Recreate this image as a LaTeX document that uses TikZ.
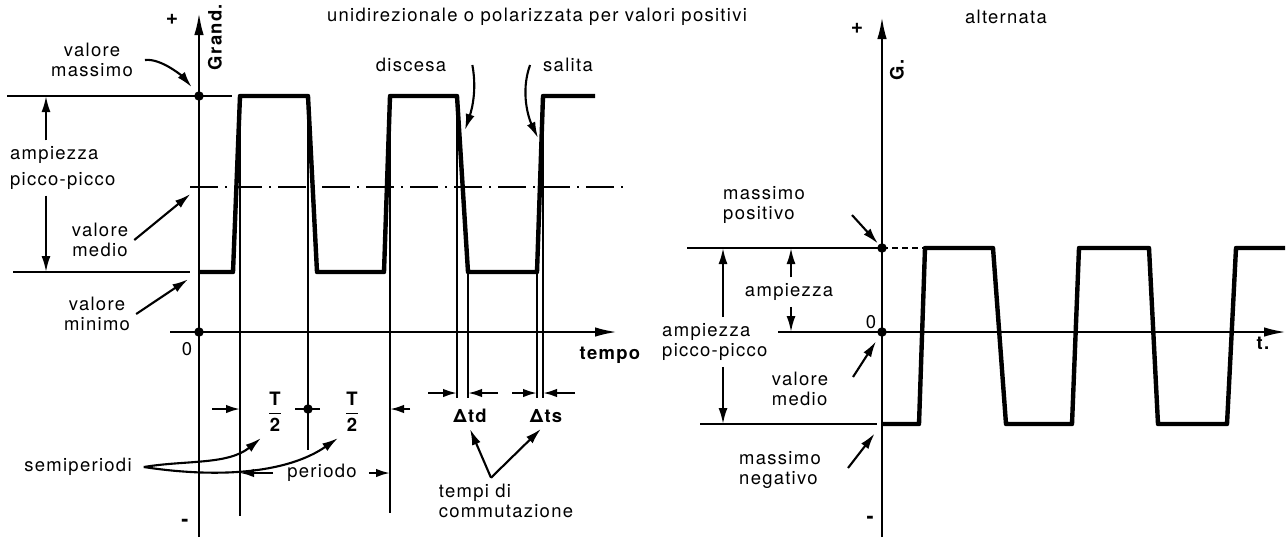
\documentclass[tikz,border=0pt]{standalone}
\usepackage{amsmath}
\usepackage{fontspec}
\setmainfont{TeX Gyre Heros}[LetterSpace=7]
\usetikzlibrary{arrows.meta,positioning}

\begin{document}
\begin{tikzpicture}[x=0.2cm, y=-0.2cm,
  every node/.style={font=\fontsize{10.5}{11.6}\selectfont},
  wave/.style={line width=2.5pt, line join=round},
  guide/.style={line width=0.8pt},
  axis/.style={line width=1.3pt, -{Latex[length=4.4mm,width=1.9mm]}},
  arrow/.style={line width=1.2pt, -{Latex[length=3.2mm,width=1.8mm]}},
  dim/.style={line width=1.2pt, -{Latex[length=2.8mm,width=1.7mm]}},
  lbl/.style={align=center},
  bold/.style={font=\fontsize{10.5}{11.6}\selectfont\bfseries},
  sign/.style={font=\fontsize{12}{13}\selectfont\bfseries},
  dot/.style={circle, fill, inner sep=0pt, minimum size=1.9mm},
  meanline/.style={line width=0.8pt, dash pattern=on 5.6mm off 1.4mm on 0.4mm off 1.4mm}
]
\useasboundingbox (0,0) rectangle (128.8,53.7);

% --- unidirezionale ---
\foreach \n/\x/\y in {0/19.9/27.2, 1/23.3/27.2, 2/24.0/9.6, 3/30.8/9.6, 4/31.7/27.2, 5/38.4/27.2,
  6/39.0/9.6, 7/45.7/9.6, 8/46.8/27.2, 9/53.7/27.2, 10/54.3/9.6, 11/59.5/9.6}
  \coordinate (w\n) at (\x,\y);
\coordinate (o1) at (19.9,33.2);
\coordinate (m1) at (19.9,9.6);
\coordinate (a1) at (19.9,18.7);

\draw[guide] (0.7,9.6) -- (23.2,9.6);
\draw[guide] (1.3,27.2) -- (19.0,27.2);
\draw[meanline] (19.0,18.7) -- (62.5,18.7);
\draw[guide] (w2) -- (w2 |- 0,51.6);
\draw[guide] (w3) -- (w3 |- 0,45.0);
\draw[guide] (w6) -- (w6 |- 0,51.3);
\foreach \n in {7,8,9,10}
  \draw[guide] (w\n) -- (w\n |- 0,39.8);
\draw[axis] (19.9,53.7) -- (19.9,1.3);
\draw[axis] (17.0,33.2) -- (61.7,33.2);
\draw[wave] (w0) -- (w1) -- (w2) -- (w3) -- (w4) -- (w5) -- (w6) -- (w7) -- (w8) -- (w9) -- (w10) -- (w11);
\node[dot] at (m1) {};
\node[dot] at (o1) {};

\node[sign] (plus1) at (17.2,1.9) {+};
\node[sign] (minus1) at (18.5,52.3) {-};
\node[bold, rotate=90] (grand) at (21.5,3.7) {Grand.};
\node (zero1) at (18.7,34.9) {0};
\node[bold] (tempo) at (61.0,35.5) {tempo};
\node (titleL) at (53.7,1.7) {unidirezionale o polarizzata per valori positivi};

\node[lbl] (vmax) at (9.2,6.0) {valore\\massimo};
\draw[arrow, shorten >=2.3mm] ([xshift=1.2mm]vmax.east) .. controls +(1.7,-0.2) and +(-1.5,-1.8) .. (m1);
\node[align=left, anchor=west] (amp) at (0.4,16.8) {ampiezza\\[3pt]picco-picco};
\draw[arrow] (4.6,0 |- amp.north) -- (4.6,0 |- m1);
\draw[arrow] (4.6,0 |- amp.south) -- (4.6,0 |- w0);
\node[lbl] (vmed) at (10.0,24.0) {valore\\medio};
\draw[arrow, shorten >=2.2mm] (vmed.east) -- (a1);
\node[lbl] (vmin) at (9.7,31.4) {valore\\minimo};
\draw[arrow, shorten >=2.6mm] (vmin.east) -- (w0);
\node (disc) at (41.1,6.5) {discesa};
\draw[arrow] ([xshift=4mm]disc.east) .. controls +(0.5,2.7) and +(0.6,-1.8) .. ([shift={(0.8,3.4)}]w7);
\node (sal) at (56.8,6.5) {salita};
\draw[arrow] ([xshift=-1.4mm]sal.west) .. controls +(-1.0,2.8) and +(-0.9,-1.9) .. ([shift={(-0.5,4.2)}]w10);

% semiperiodi e periodo
\draw[dim] (21.2,40.9) -- (w2 |- 0,40.9);
\draw[dim] (41.0,40.9) -- (w6 |- 0,40.9);
\draw[line width=1.2pt] (29.5,40.9) -- (32.0,40.9);
\node[dot] (half) at (w3 |- 0,40.9) {};
\node[bold] (t1) at (27.5,41.2) {$\dfrac{\textbf{T}}{\textbf{2}}$};
\node[bold] (t2) at (35.2,41.2) {$\dfrac{\textbf{T}}{\textbf{2}}$};
\node (per) at (32.2,47.3) {periodo};
\draw[dim] ([xshift=-1.6mm]per.west) -- (w2 |- per.west);
\draw[dim] ([xshift=1.2mm]per.east) -- (w6 |- per.east);
\node (semi) at (7.8,46.7) {semiperiodi};
\draw[arrow] ([xshift=1.2mm]semi.east) .. controls +(4.2,-0.7) and +(-3.3,2.7) .. (t1.south west);
\draw[arrow] ([xshift=1.2mm]semi.east) .. controls +(7.2,1.1) and +(-5.2,3.6) .. (t2.south west);

% tempi di commutazione
\draw[dim] (42.8,39.3) -- (w7 |- 0,39.3);
\draw[dim] (49.8,39.3) -- (w8 |- 0,39.3);
\draw[dim] (51.2,39.3) -- (w9 |- 0,39.3);
\draw[dim] (57.5,39.3) -- (w10 |- 0,39.3);
\node[bold] (dtd) at (47.0,41.6) {Δtd};
\node[bold] (dts) at (54.6,41.6) {Δts};
\node[align=left] (comm) at (50.6,50.1) {tempi di\\commutazione};
\draw[arrow] ([xshift=-3mm]comm.north) -- (dtd.south);
\draw[arrow] ([xshift=-3mm]comm.north) -- ([xshift=-1mm]dts.south);

% --- alternata ---
\foreach \n/\x/\y in {0/88.2/42.4, 1/91.9/42.4, 2/92.5/24.8, 3/99.3/24.8, 4/100.6/42.4, 5/107.2/42.4,
  6/107.9/24.8, 7/114.9/24.8, 8/115.8/42.4, 9/122.7/42.4, 10/123.6/24.8, 11/128.5/24.8}
  \coordinate (v\n) at (\x,\y);
\coordinate (o2) at (88.2,33.2);
\coordinate (m2) at (88.2,24.8);

\draw[guide] (68.7,24.8) -- (m2);
\draw[guide, dash pattern=on 1.2mm off 0.8mm] (m2) -- (92.3,24.8);
\draw[guide] (70.0,42.4) -- (87.7,42.4);
\draw[axis] (88.2,53.7) -- (88.2,1.7);
\draw[axis] (77.8,33.2) -- (128.6,33.2);
\draw[wave] (v0) -- (v1) -- (v2) -- (v3) -- (v4) -- (v5) -- (v6) -- (v7) -- (v8) -- (v9) -- (v10) -- (v11);
\node[dot] at (m2) {};
\node[dot] at (o2) {};

\node[sign] (plus2) at (85.7,2.8) {+};
\node[sign] (minus2) at (87.0,52.0) {-};
\node[bold, rotate=90] (gg) at (89.7,7.0) {G.};
\node (zero2) at (87.1,32.2) {0};
\node[bold] (tt) at (126.3,34.3) {t.};
\node (titleR) at (100.6,1.7) {alternata};

\node[align=left] (mpos) at (76.4,20.5) {massimo\\positivo};
\coordinate (mposA) at (85.2,21.5);
\draw[arrow, shorten >=1.2mm] (mposA) -- (m2);
\node[align=left, anchor=west] (ampR) at (65.6,34.2) {ampiezza\\picco-picco};
\draw[arrow] (72.3,0 |- ampR.north) -- (72.3,0 |- m2);
\draw[arrow] (72.3,0 |- ampR.south) -- (72.3,0 |- v0);
\node (ampA) at (78.9,29.2) {ampiezza};
\draw[arrow] ([xshift=0.4mm]ampA.north) -- ([xshift=0.4mm]ampA.north |- m2);
\draw[arrow] ([xshift=0.4mm]ampA.south) -- ([xshift=0.4mm]ampA.south |- o2);
\node[align=left] (vmedR) at (80.0,38.9) {valore\\medio};
\coordinate (vmedA) at (85.3,37.7);
\draw[arrow, shorten >=2.2mm] (vmedA) -- (o2);
\node[align=left] (mneg) at (78.0,47.0) {massimo\\negativo};
\coordinate (mnegA) at (84.8,46.8);
\draw[arrow, shorten >=2.4mm] (mnegA) -- (v0);
\end{tikzpicture}
\end{document}
